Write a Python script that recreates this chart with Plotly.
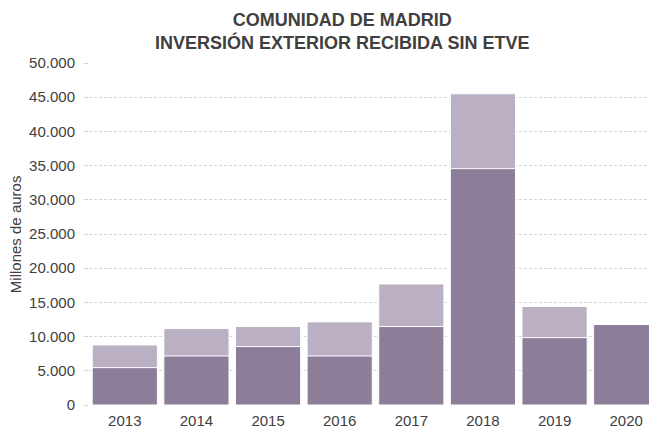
import plotly.graph_objects as go

# Data (millones de euros)
years = ['2013', '2014', '2015', '2016', '2017', '2018', '2019', '2020']
total = [8780, 11170, 11470, 12150, 17700, 45500, 14400, None]
parcial = [5460, 7170, 8540, 7170, 11470, 34550, 9850, 11760]

tick_vals = [0, 5000, 10000, 15000, 20000, 25000, 30000, 35000, 40000, 45000, 50000]
tick_text = ['0', '5.000', '10.000', '15.000', '20.000', '25.000', '30.000',
             '35.000', '40.000', '45.000', '50.000']

LIGHT = '#BBAFC3'
DARK = '#8C7D99'
TEXT = '#404040'
FONT = 'Liberation Sans, Arial, sans-serif'

fig = go.Figure()

fig.add_trace(go.Bar(
    x=years, y=total, name='Total',
    marker=dict(color=LIGHT, line=dict(color='white', width=1)),
))
fig.add_trace(go.Bar(
    x=years, y=parcial, name='Parcial',
    marker=dict(color=DARK, line=dict(color='white', width=1)),
))

# page body adds an 8px margin, so the figure is a bit smaller than the window
fig.update_layout(
    width=649, height=422,
    barmode='overlay', bargap=0.09,
    showlegend=False,
    paper_bgcolor='white', plot_bgcolor='white',
    font=dict(family=FONT, color=TEXT, size=14),
    margin=dict(l=81, r=0, t=55, b=25),
    title=dict(
        text='<b>COMUNIDAD DE MADRID<br>INVERSIÓN EXTERIOR RECIBIDA SIN ETVE</b>',
        x=0.515, xanchor='center', y=0.958, yanchor='top',
        font=dict(family=FONT, size=18, color=TEXT),
    ),
)

# y-axis title placed by hand so the plot area keeps its size
fig.add_annotation(
    text='Millones de auros', textangle=-90,
    xref='paper', yref='paper', x=-0.13, y=0.5,
    xanchor='center', yanchor='middle', showarrow=False,
    font=dict(size=15, color=TEXT),
)

fig.update_xaxes(
    range=[-0.5, 7.43], showgrid=False, showline=False, ticks='',
    ticklabelstandoff=5,
    tickfont=dict(size=15, color=TEXT), automargin=False,
)
fig.update_yaxes(
    range=[0, 50000], tickvals=tick_vals, ticktext=tick_text,
    showgrid=True, gridcolor='#D6D6D6', griddash='3px,2px', gridwidth=1,
    zeroline=False, showline=False,
    ticks='outside', ticklen=4, tickcolor='#D6D6D6', ticklabelstandoff=6,
    tickfont=dict(size=15, color=TEXT), automargin=False,
)

fig.write_html("out.html")
